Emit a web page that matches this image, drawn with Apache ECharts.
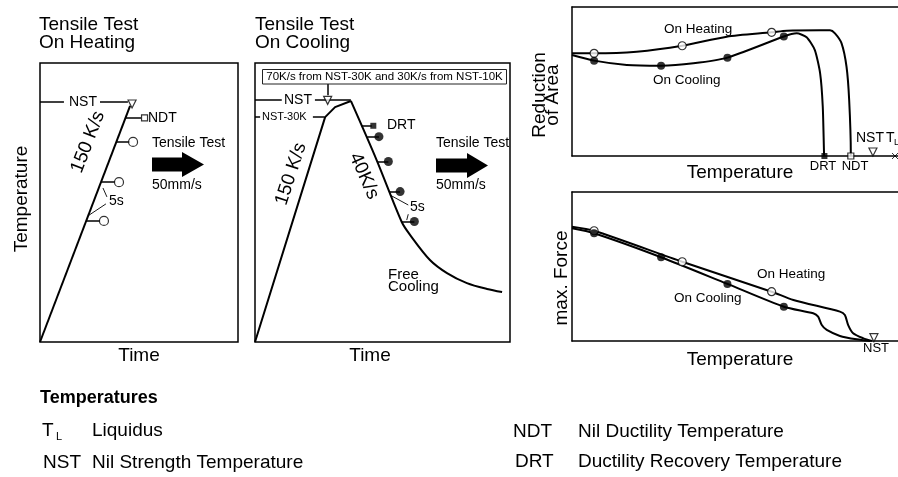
<!DOCTYPE html>
<html><head><meta charset="utf-8">
<script src="https://cdn.jsdelivr.net/npm/echarts@6/dist/echarts.min.js"></script>
<style>html,body{margin:0;padding:0;background:#fff}#c{width:898px;height:477px}</style>
</head><body><div id="c"></div>
<script>
// ===== Panel 1: Tensile Test On Heating (time vs. temperature, relative units 0-100)
const heatRamp = [[0, 0], [45.5, 84.6]];
const heatNstLevel = 86.0;
const heatNstSegments = [[0, 12.1], [30.3, 44.4]];
const heatTestTemps = [80.3, 71.7, 57.3, 43.4];      // NDT, then tests
const heatTickStart = [43.2, 38.7, 31.0, 23.2];
const heatTickEnd = [51.0, 45.5, 37.9, 30.3];
const heatSampleX = [52.8, 47.0, 39.9, 32.3];
const heatNstPoint = [46.5, 85.3];
const heat5sLines = [[[31.8, 55.2], [33.8, 52.0]], [[24.2, 45.2], [33.3, 49.5]]];

// ===== Panel 2: Tensile Test On Cooling
const coolRamp = [[0, 0], [27.5, 80.6], [31.4, 84.2], [37.6, 86.4]];
const coolCurve = [[37.6, 86.4], [47.7, 65.2], [57.5, 43.1], [60.8, 38.4], [68.6, 29.4],
                   [75.3, 24.7], [83.1, 21.1], [91.0, 19.0], [96.9, 17.9]];
const coolNstLevel = 86.7;
const coolNstSegments = [[0, 10.5], [23.5, 37.6]];
const coolNst30Level = 80.6;
const coolNst30Segments = [[0, 2.0], [22.7, 27.3]];
const coolTestTemps = [77.5, 73.6, 64.7, 53.9, 43.2];   // DRT, then tests
const coolTickStart = [41.8, 44.0, 48.0, 52.7, 57.5];
const coolSampleX = [46.4, 48.6, 52.3, 56.9, 62.5];
const coolNstPoint = [28.5, 86.6];
const coolConnector = [[28.5, 92.5], [28.5, 88.4]];
const cool5sLines = [[[52.9, 52.7], [60.1, 49.1]], [[59.5, 43.7], [60.1, 45.8]]];

// ===== Panel 3: Reduction of Area vs Temperature
const raHeating = [[0, 68.9], [6.7, 68.9], [19.6, 70.0], [33.4, 74.0], [46.9, 80.1], [60.5, 83.0],
                   [65.1, 84.1], [75.2, 84.4], [78.2, 84.4], [79.7, 82.3], [81.7, 75.6],
                   [83.2, 59.9], [84.0, 37.6], [84.5, 1.8], [84.5, 0]];
const raCooling = [[0, 67.8], [6.7, 64.0], [16.6, 61.1], [27.0, 60.6], [36.8, 62.2], [47.1, 66.0],
                   [64.2, 80.2], [68.1, 82.3], [71.1, 79.7], [73.6, 71.1], [75.2, 55.5],
                   [76.0, 33.1], [76.4, 0.7], [76.5, 0]];
const raHeatSamples = [[6.7, 68.9], [33.4, 74.0], [60.5, 83.0]];
const raCoolSamples = [[6.7, 64.0], [27.0, 60.6], [47.1, 66.0], [64.2, 80.2]];
const raDRT = 76.5, raNDT = 84.5, raNST = 91.2, raTL = 97.9;

// ===== Panel 4: max. Force vs Temperature
const mfHeating = [[0, 76.7], [6.7, 74.0], [33.4, 53.2], [60.5, 33.1], [67.1, 27.5], [81.2, 19.7],
                   [82.7, 17.4], [83.7, 10.7], [85.2, 5.2], [88.3, 1.8], [90.9, 0]];
const mfCooling = [[0, 75.6], [6.7, 72.3], [27.0, 56.2], [47.1, 38.3], [64.2, 23.0], [73.1, 18.6],
                   [74.6, 16.3], [75.7, 10.7], [77.2, 7.4], [81.2, 3.4], [86.3, 1.1], [90.3, 0]];
const mfHeatSamples = [[6.7, 74.0], [33.4, 53.2], [60.5, 33.1]];
const mfCoolSamples = [[6.7, 72.3], [27.0, 56.2], [47.1, 38.3], [64.2, 23.0]];
const mfNST = 91.5;

// ===== Legend of temperatures
const legendLeft = [['T', 'Liquidus'], ['NST', 'Nil Strength Temperature']];
const legendRight = [['NDT', 'Nil Ductility Temperature'], ['DRT', 'Ductility Recovery Temperature']];

// ------------------------------------------------------------------
const FONT = 'Liberation Sans, Arial, Helvetica, sans-serif';
const chart = echarts.init(document.getElementById('c'), null, { renderer: 'canvas' });

const BLACK = '#000';
const openItem = { color: '#fff', borderColor: BLACK, borderWidth: 1.2 };
const fillItem = { color: BLACK, borderColor: BLACK, borderWidth: 0 };

function curve(g, data, smooth) {
  return { type: 'line', xAxisIndex: g, yAxisIndex: g, data: data, showSymbol: false, symbol: 'none',
    smooth: smooth || false, clip: false, silent: true, z: 3,
    lineStyle: { color: BLACK, width: 2 } };
}
function segs(g, list, width) {
  return { type: 'lines', coordinateSystem: 'cartesian2d', xAxisIndex: g, yAxisIndex: g, silent: true,
    clip: false, z: 2, lineStyle: { color: BLACK, width: width || 1.5, opacity: 1, curveness: 0 },
    data: list.map(c => ({ coords: c })) };
}
function marks(g, data, symbol, size, item, rot) {
  return { type: 'scatter', xAxisIndex: g, yAxisIndex: g, data: data, symbol: symbol, symbolSize: size,
    symbolRotate: rot || 0, itemStyle: item, silent: true, clip: false, z: 5 };
}

const p1Segs = heatNstSegments.map(s => [[s[0], heatNstLevel], [s[1], heatNstLevel]])
  .concat(heatTestTemps.map((t, i) => [[heatTickStart[i], t], [heatTickEnd[i], t]]));
const p2Segs = coolNstSegments.map(s => [[s[0], coolNstLevel], [s[1], coolNstLevel]])
  .concat(coolNst30Segments.map(s => [[s[0], coolNst30Level], [s[1], coolNst30Level]]))
  .concat(coolTestTemps.map((t, i) => [[coolTickStart[i], t], [coolSampleX[i] - (i === 0 ? 0.6 : 0), t]]))
  .concat([coolConnector]);

const series = [
  curve(0, heatRamp),
  segs(0, p1Segs, 1.5),
  segs(0, heat5sLines, 0.9),
  marks(0, heatTestTemps.slice(1).map((t, i) => [heatSampleX[i + 1], t]), 'circle', 9, openItem),
  marks(0, [[heatSampleX[0], heatTestTemps[0]]], 'rect', 6, openItem),
  marks(0, [heatNstPoint], 'triangle', 8, openItem, 180),

  curve(1, coolRamp),
  curve(1, coolCurve, 0.3),
  segs(1, p2Segs, 1.5),
  segs(1, cool5sLines, 0.9),
  marks(1, coolTestTemps.slice(1).map((t, i) => [coolSampleX[i + 1], t]), 'circle', 9, fillItem),
  marks(1, [[coolSampleX[0], coolTestTemps[0]]], 'rect', 6, fillItem),
  marks(1, [coolNstPoint], 'triangle', 8, openItem, 180),

  curve(2, raHeating, 0.25),
  curve(2, raCooling, 0.2),
  marks(2, raHeatSamples, 'circle', 8, openItem),
  marks(2, raCoolSamples, 'circle', 8, fillItem),
  marks(2, [[raNDT, 0]], 'rect', 6, openItem),
  marks(2, [[raDRT, 0]], 'rect', 6, fillItem),
  marks(2, [[raNST, 2.7]], 'triangle', 8, openItem, 180),
  marks(2, [[raTL, 0]], 'path://M0,0L10,10M10,0L0,10', 6, { color: 'transparent', borderColor: BLACK, borderWidth: 1 }),

  curve(3, mfHeating, 0.25),
  curve(3, mfCooling, 0.25),
  marks(3, mfHeatSamples, 'circle', 8, openItem),
  marks(3, mfCoolSamples, 'circle', 8, fillItem),
  marks(3, [[mfNST, 2.2]], 'triangle', 8, openItem, 180)
];

function txt(s, x, y, size, o) {
  o = o || {};
  const align = o.align || 'left';
  return { type: 'text', x: x, y: y, rotation: o.rot ? o.rot * Math.PI / 180 : 0, z: 100, silent: true,
    style: { text: s, fontSize: size, fontFamily: FONT, fontWeight: o.bold ? 'bold' : 'normal', fill: BLACK,
      align: align, verticalAlign: 'middle', textAlign: align, textVerticalAlign: 'middle',
      lineHeight: o.lh || Math.round(size * 1.1) } };
}
function arrow(x0, xm, x1, cy, bh, hh) {
  return { type: 'polygon', z: 50, silent: true,
    shape: { points: [[x0, cy - bh], [xm, cy - bh], [xm, cy - hh], [x1, cy], [xm, cy + hh], [xm, cy + bh], [x0, cy + bh]] },
    style: { fill: BLACK } };
}

const graphics = [
  // panel 1
  txt('Tensile Test', 39, 25, 19), txt('On Heating', 39, 43, 19),
  txt('Temperature', 22, 199, 19, { align: 'center', rot: 90 }),
  txt('Time', 139, 356, 19, { align: 'center' }),
  txt('NST', 83, 102, 14, { align: 'center' }),
  txt('NDT', 148, 118, 14),
  txt('150 K/s', 88, 142, 19, { align: 'center', rot: 69 }),
  txt('5s', 109, 201, 14),
  txt('Tensile Test', 152, 143, 14), txt('50mm/s', 152, 185, 14),
  arrow(152, 182, 204, 164.5, 7, 12.5),
  // panel 2
  txt('Tensile Test', 255, 25, 19), txt('On Cooling', 255, 43, 19),
  { type: 'rect', z: 40, silent: true, shape: { x: 262.5, y: 69.5, width: 244, height: 14.5 },
    style: { fill: '#fff', stroke: '#222', lineWidth: 1 } },
  txt('70K/s from NST-30K and 30K/s from NST-10K', 384.5, 77, 11.5, { align: 'center' }),
  txt('NST', 298, 100, 14, { align: 'center' }),
  txt('NST-30K', 262, 117, 11),
  txt('DRT', 387, 125, 14),
  txt('150 K/s', 291, 174, 19, { align: 'center', rot: 72 }),
  txt('40K/s', 364, 176, 19, { align: 'center', rot: -66 }),
  txt('5s', 410, 207, 14),
  txt('Tensile Test', 436, 143, 14), txt('50mm/s', 436, 185, 14),
  arrow(436, 467, 488, 165.5, 7, 12.5),
  txt('Free\nCooling', 388, 281, 15, { lh: 12 }),
  txt('Time', 370, 356, 19, { align: 'center' }),
  // panel 3
  txt('Reduction\nof Area', 546, 95, 19, { align: 'center', rot: 90, lh: 13 }),
  txt('On Heating', 664, 29, 13.5), txt('On Cooling', 653, 80, 13.5),
  txt('Temperature', 740, 173, 19, { align: 'center' }),
  txt('DRT', 823, 166, 13, { align: 'center' }),
  txt('NDT', 855, 166, 13, { align: 'center' }),
  txt('NST', 870, 138, 14, { align: 'center' }),
  txt('T', 886, 138, 14), txt('L', 894, 143, 9),
  // panel 4
  txt('max. Force', 562, 278, 19, { align: 'center', rot: 90 }),
  txt('On Heating', 757, 274, 13.5), txt('On Cooling', 674, 298, 13.5),
  txt('Temperature', 740, 360, 19, { align: 'center' }),
  txt('NST', 876, 348, 13, { align: 'center' }),
  // legend
  txt('Temperatures', 40, 398, 18, { bold: true }),
  txt(legendLeft[0][0], 42, 431, 19), txt('L', 56, 437, 11), txt(legendLeft[0][1], 92, 431, 19),
  txt(legendLeft[1][0], 43, 463, 19), txt(legendLeft[1][1], 92, 463, 19),
  txt(legendRight[0][0], 513, 432, 19), txt(legendRight[0][1], 578, 432, 19),
  txt(legendRight[1][0], 515, 462, 19), txt(legendRight[1][1], 578, 462, 19)
];

const boxed = { show: true, borderColor: BLACK, borderWidth: 1.5, backgroundColor: 'transparent', containLabel: false };
const open = { show: false, containLabel: false };
const grids = [
  Object.assign({ left: 40, top: 63, width: 198, height: 279 }, boxed),
  Object.assign({ left: 255, top: 63, width: 255, height: 279 }, boxed),
  Object.assign({ left: 572, top: 7, width: 326, height: 149 }, open),
  Object.assign({ left: 572, top: 192, width: 326, height: 149 }, open)
];
const xMax = [100, 100, 98.8, 98.8];
const axisLineOnly = (show) => ({
  show: show, axisLine: { show: true, onZero: false, lineStyle: { color: BLACK, width: 1.5 } },
  axisTick: { show: false }, axisLabel: { show: false }, splitLine: { show: false }
});
const xAxes = grids.map((g, i) => Object.assign({ type: 'value', gridIndex: i, min: 0, max: xMax[i], position: 'bottom' }, axisLineOnly(i >= 2)));
xAxes.push(Object.assign({ type: 'value', gridIndex: 2, min: 0, max: xMax[2], position: 'top' }, axisLineOnly(true)));
xAxes.push(Object.assign({ type: 'value', gridIndex: 3, min: 0, max: xMax[3], position: 'top' }, axisLineOnly(true)));
const yAxes = grids.map((g, i) => Object.assign({ type: 'value', gridIndex: i, min: 0, max: 100, position: 'left' }, axisLineOnly(i >= 2)));

chart.setOption({
  animation: false,
  backgroundColor: '#fff',
  grid: grids,
  xAxis: xAxes,
  yAxis: yAxes,
  series: series,
  graphic: graphics
});
</script></body></html>
